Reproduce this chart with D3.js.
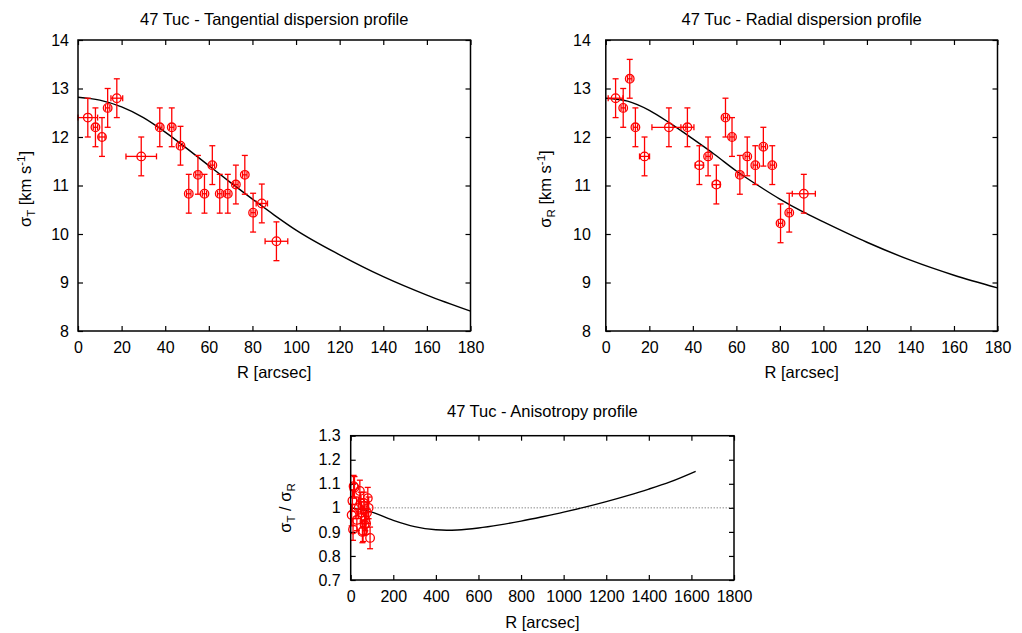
<!DOCTYPE html>
<html><head><meta charset="utf-8">
<script src="https://cdn.jsdelivr.net/npm/d3@7"></script>
<style>
body{margin:0;background:#fff}
svg text{font-family:"Liberation Sans",Arial,sans-serif;fill:#000}
</style>
</head><body>
<svg id="c" width="1022" height="633"></svg>
<script>
// ---------- data ----------
const radii      = [4.5, 8, 11, 13.6, 17.8, 29, 37.5, 43, 47, 50.8, 55, 58, 61.6, 65, 68.7, 72.4, 76.5, 80.3, 84.3, 91];
// tangential dispersion (km/s)
const sigmaT     = [12.4, 12.2, 12.0, 12.6, 12.8, 11.6, 12.2, 12.2, 11.82, 10.83, 11.22, 10.83, 11.42, 10.83, 10.83, 11.02, 11.22, 10.44, 10.63, 9.85];
const sigmaTErr  = [0.4, 0.4, 0.4, 0.4, 0.4, 0.4, 0.4, 0.4, 0.4, 0.4, 0.4, 0.4, 0.4, 0.4, 0.4, 0.4, 0.4, 0.4, 0.4, 0.4];
const radErrT    = [4.5, 1, 1.4, 1, 2.7, 7, 1, 1, 1, 1, 1, 1, 1, 1, 1, 1, 1, 1, 2.6, 5.2];
// radial dispersion (km/s)
const sigmaR     = [12.8, 12.6, 13.2, 12.2, 11.6, 12.2, 12.2, 11.42, 11.6, 11.02, 12.4, 12.0, 11.22, 11.6, 11.42, 11.8, 11.42, 10.22, 10.44, 10.83];
const sigmaRErr  = [0.4, 0.4, 0.4, 0.4, 0.4, 0.4, 0.4, 0.4, 0.4, 0.4, 0.4, 0.4, 0.4, 0.4, 0.4, 0.4, 0.4, 0.4, 0.4, 0.4];
const radErrR    = [3.4, 1, 1, 1, 2.3, 7.8, 3, 1.9, 1, 1.8, 1, 1, 1, 1, 1, 1, 1, 1, 1, 5.3];
// anisotropy sigma_T / sigma_R
const ratio      = [0.97, 1.03, 0.91, 1.09, 1.085, 0.95, 1.0, 1.07, 1.02, 0.98, 0.90, 0.905, 1.02, 0.93, 0.95, 0.935, 0.98, 1.04, 1.0, 0.875];
const ratioErr   = [0.045, 0.045, 0.045, 0.045, 0.045, 0.045, 0.045, 0.045, 0.045, 0.045, 0.045, 0.045, 0.045, 0.045, 0.045, 0.045, 0.045, 0.045, 0.045, 0.045];
// model curves
const modelRadius = [0, 10, 20, 30, 40, 50, 60, 70, 80, 90, 100, 120, 140, 160, 180];
const modelT      = [12.82, 12.76, 12.62, 12.4, 12.1, 11.76, 11.41, 11.06, 10.72, 10.39, 10.08, 9.57, 9.12, 8.74, 8.41];
const modelRd     = [12.8, 12.74, 12.55, 12.27, 11.96, 11.64, 11.3, 11.0, 10.72, 10.47, 10.25, 9.83, 9.46, 9.15, 8.89];
const anisoRadius = [0, 100, 200, 300, 400, 450, 500, 600, 700, 800, 900, 1000, 1100, 1200, 1300, 1400, 1500, 1620];
const anisoModel  = [1.0, 0.982, 0.948, 0.922, 0.909, 0.907, 0.908, 0.916, 0.929, 0.945, 0.963, 0.982, 1.003, 1.026, 1.051, 1.078, 1.108, 1.152];
// ticks
const xTicksTop  = [0, 20, 40, 60, 80, 100, 120, 140, 160, 180];
const yTicksTop  = [8, 9, 10, 11, 12, 13, 14];
const xTicksAni  = [0, 200, 400, 600, 800, 1000, 1200, 1400, 1600, 1800];
const yTicksAni  = [0.7, 0.8, 0.9, 1.0, 1.1, 1.2, 1.3];

// ---------- drawing ----------
const svg = d3.select("#c");
svg.append("rect").attr("width",1022).attr("height",633).attr("fill","#fff");
const FS = 16;
const fmt = d3.format("~g");

function panel(cfg){
  const x = d3.scaleLinear().domain(cfg.xd).range([cfg.x0, cfg.x1]);
  const y = d3.scaleLinear().domain(cfg.yd).range([cfg.y1, cfg.y0]);
  const g = svg.append("g");

  const styleAxis = a => {
    a.attr("font-size", FS).attr("font-family", '"Liberation Sans",Arial,sans-serif');
    a.select(".domain").remove();
    a.selectAll(".tick line").attr("stroke","#000").attr("stroke-width",1.2);
    a.selectAll(".tick text").attr("fill","#000");
  };
  g.append("g").attr("transform",`translate(0,${cfg.y1})`)
    .call(d3.axisBottom(x).tickValues(cfg.xt).tickFormat(fmt).tickSize(-5).tickSizeOuter(0).tickPadding(10.5))
    .call(styleAxis);
  g.append("g").attr("transform",`translate(0,${cfg.y0})`)
    .call(d3.axisTop(x).tickValues(cfg.xt).tickFormat("").tickSize(-5).tickSizeOuter(0))
    .call(styleAxis);
  g.append("g").attr("transform",`translate(${cfg.x0},0)`)
    .call(d3.axisLeft(y).tickValues(cfg.yt).tickFormat(fmt).tickSize(-5).tickSizeOuter(0).tickPadding(cfg.ypad))
    .call(styleAxis);
  g.append("g").attr("transform",`translate(${cfg.x1},0)`)
    .call(d3.axisRight(y).tickValues(cfg.yt).tickFormat("").tickSize(-5).tickSizeOuter(0))
    .call(styleAxis);

  // reference line
  if (cfg.refLine !== undefined){
    g.append("line").attr("x1",cfg.x0).attr("x2",cfg.x1)
      .attr("y1",y(cfg.refLine)).attr("y2",y(cfg.refLine))
      .attr("stroke","#555").attr("stroke-width",1).attr("stroke-dasharray","1,2");
  }

  // model curve
  const line = d3.line().x(d=>x(d[0])).y(d=>y(d[1])).curve(d3.curveMonotoneX);
  g.append("path").datum(cfg.mx.map((v,i)=>[v,cfg.my[i]]))
    .attr("d",line).attr("fill","none").attr("stroke","#000").attr("stroke-width",1.4);

  // data with error bars
  const pts = cfg.px.map((v,i)=>({x:v,y:cfg.py[i],ey:cfg.pey[i],ex:cfg.pex?cfg.pex[i]:0}));
  const eg = g.append("g").attr("stroke","#f00").attr("stroke-width",1.3).attr("fill","none");
  const cap = 3;
  pts.forEach(p=>{
    const cx = x(p.x), cy = y(p.y);
    const yt = y(p.y+p.ey), yb = y(p.y-p.ey);
    eg.append("line").attr("x1",cx).attr("x2",cx).attr("y1",Math.max(yt,cfg.y0)).attr("y2",yb);
    if (yt >= cfg.y0) eg.append("line").attr("x1",cx-cap).attr("x2",cx+cap).attr("y1",yt).attr("y2",yt);
    eg.append("line").attr("x1",cx-cap).attr("x2",cx+cap).attr("y1",yb).attr("y2",yb);
    if (p.ex){
      const xl = x(Math.max(p.x-p.ex, cfg.xd[0])), xr = x(p.x+p.ex);
      eg.append("line").attr("x1",xl).attr("x2",xr).attr("y1",cy).attr("y2",cy);
      eg.append("line").attr("x1",xl).attr("x2",xl).attr("y1",cy-cap).attr("y2",cy+cap);
      eg.append("line").attr("x1",xr).attr("x2",xr).attr("y1",cy-cap).attr("y2",cy+cap);
    }
    eg.append("circle").attr("cx",cx).attr("cy",cy).attr("r",4.3);
  });

  // frame
  g.append("rect").attr("x",cfg.x0).attr("y",cfg.y0)
    .attr("width",cfg.x1-cfg.x0).attr("height",cfg.y1-cfg.y0)
    .attr("fill","none").attr("stroke","#000").attr("stroke-width",1.5);

  // title & labels
  const cxm = (cfg.x0+cfg.x1)/2;
  g.append("text").attr("x",cxm).attr("y",cfg.titleY).attr("text-anchor","middle")
    .attr("font-size",16.5).text(cfg.title);
  g.append("text").attr("x",cxm).attr("y",cfg.xlabY).attr("text-anchor","middle")
    .attr("font-size",16.5).text("R [arcsec]");
  const yl = g.append("text").attr("text-anchor","middle").attr("font-size",16.5)
    .attr("transform",`translate(${cfg.ylabX},${cfg.ylabY}) rotate(-90)`);
  cfg.ylab(yl);
}

panel({
  x0:78, x1:470.5, y0:40, y1:331, xd:[0,180], yd:[8,14], xt:xTicksTop, yt:yTicksTop, ypad:9,
  mx:modelRadius, my:modelT, px:radii, py:sigmaT, pey:sigmaTErr, pex:radErrT,
  title:"47 Tuc - Tangential dispersion profile", titleY:25, xlabY:378, ylabX:31, ylabY:189,
  ylab: t=>{ t.append("tspan").text("σ"); t.append("tspan").attr("font-size",11.5).attr("dy",4).text("T");
             t.append("tspan").attr("dy",-4).text(" [km s"); t.append("tspan").attr("font-size",11.5).attr("dy",-6).text("-1");
             t.append("tspan").attr("dy",6).text("]"); }
});
panel({
  x0:605.8, x1:997.5, y0:40, y1:331, xd:[0,180], yd:[8,14], xt:xTicksTop, yt:yTicksTop, ypad:15,
  mx:modelRadius, my:modelRd, px:radii, py:sigmaR, pey:sigmaRErr, pex:radErrR,
  title:"47 Tuc - Radial dispersion profile", titleY:25, xlabY:378, ylabX:551, ylabY:189,
  ylab: t=>{ t.append("tspan").text("σ"); t.append("tspan").attr("font-size",11.5).attr("dy",4).text("R");
             t.append("tspan").attr("dy",-4).text(" [km s"); t.append("tspan").attr("font-size",11.5).attr("dy",-6).text("-1");
             t.append("tspan").attr("dy",6).text("]"); }
});
panel({
  x0:350.7, x1:734, y0:435.7, y1:580, xd:[0,1800], yd:[0.7,1.3], xt:xTicksAni, yt:yTicksAni, ypad:10,
  mx:anisoRadius, my:anisoModel, px:radii, py:ratio, pey:ratioErr, pex:null, refLine:1,
  title:"47 Tuc - Anisotropy profile", titleY:416.5, xlabY:628, ylabX:291, ylabY:508,
  ylab: t=>{ t.append("tspan").text("σ"); t.append("tspan").attr("font-size",11.5).attr("dy",4).text("T");
             t.append("tspan").attr("dy",-4).text(" / σ"); t.append("tspan").attr("font-size",11.5).attr("dy",4).text("R"); }
});
</script>
</body></html>
